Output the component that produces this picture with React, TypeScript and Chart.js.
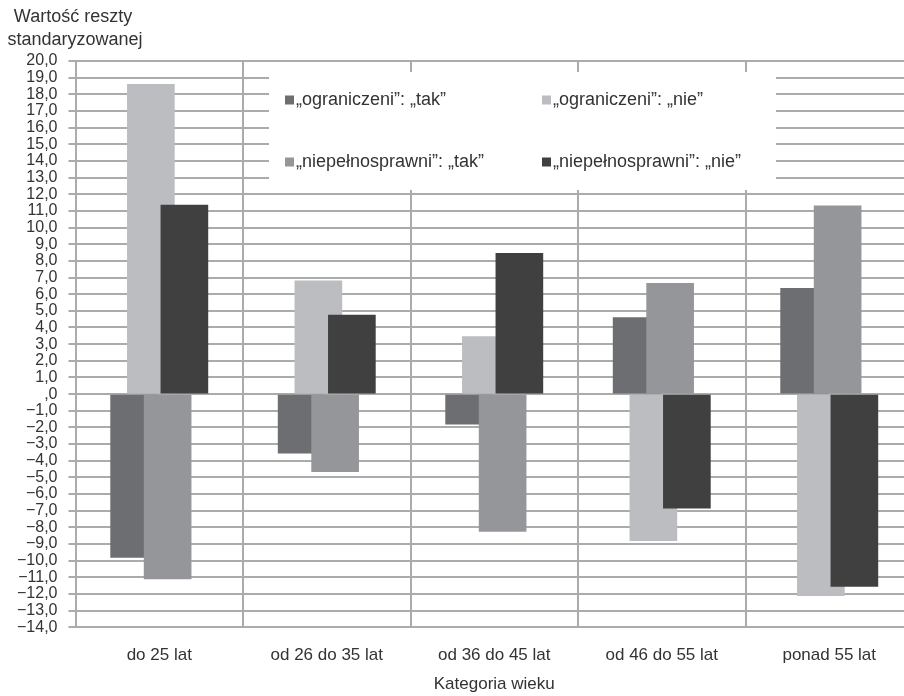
import { useEffect, useRef } from 'react';
import { Chart, registerables } from 'chart.js';

Chart.register(...registerables);

// Age groups on the horizontal axis
const categories = ['do 25 lat', 'od 26 do 35 lat', 'od 36 do 45 lat', 'od 46 do 55 lat', 'ponad 55 lat'];

// Series names (two binary variables, each split into "tak"/"nie")
const seriesNames = [
  '„ograniczeni”: „tak”',
  '„ograniczeni”: „nie”',
  '„niepełnosprawni”: „tak”',
  '„niepełnosprawni”: „nie”',
];

// Standardized residuals per age group
const ograniczeniTak = [-9.8, -3.55, -1.8, 4.6, 6.35];
const ograniczeniNie = [18.6, 6.8, 3.45, -8.8, -12.1];
const niepelnosprawniTak = [-11.1, -4.65, -8.25, 6.65, 11.3];
const niepelnosprawniNie = [11.35, 4.75, 8.45, -6.85, -11.55];

const seriesValues = [ograniczeniTak, ograniczeniNie, niepelnosprawniTak, niepelnosprawniNie];
const seriesColors = ['#6d6e71', '#bcbdc0', '#95969a', '#404040'];

// Value axis range
const yMin = -14;
const yMax = 20;
const yStep = 1;

const yTitleLines = ['Wartość reszty', 'standaryzowanej'];
const xTitle = 'Kategoria wieku';

// Bars in a group overlap: each is shifted by a tenth of the group width
const slotOffsets = [-0.15, -0.05, 0.05, 0.15];

const FONT = '"Liberation Sans", Arial, sans-serif';
const TEXT = '#333333';
const GRID = '#ababab';

const formatTick = (v: number) => {
  if (v === 0) return ',0';
  const s = Math.abs(v).toFixed(1).replace('.', ',');
  return v < 0 ? '\u2212' + s : s;
};

// Two-line horizontal title above the value axis
const yTitlePlugin = {
  id: 'yTitleTop',
  afterDraw(chart: Chart) {
    const ctx = chart.ctx;
    ctx.save();
    ctx.font = `18px ${FONT}`;
    ctx.fillStyle = TEXT;
    ctx.textAlign = 'center';
    ctx.textBaseline = 'alphabetic';
    ctx.fillText(yTitleLines[0], 73, 22);
    ctx.fillText(yTitleLines[1], 75, 45);
    ctx.restore();
  },
};

// Legend in a white box inside the plot, two columns by two rows
const innerLegendPlugin = {
  id: 'innerLegend',
  beforeDatasetsDraw(chart: Chart) {
    const ctx = chart.ctx;
    const box = { x: 269, y: 72, w: 507, h: 118 };
    ctx.save();
    ctx.fillStyle = '#ffffff';
    ctx.fillRect(box.x, box.y, box.w, box.h);
    ctx.font = `18px ${FONT}`;
    ctx.textBaseline = 'middle';
    ctx.textAlign = 'left';
    const cols = [285, 542];
    const rows = [100, 162];
    chart.data.datasets.forEach((ds: any, i: number) => {
      const cx = cols[i % 2];
      const cy = rows[Math.floor(i / 2)];
      ctx.fillStyle = ds.backgroundColor as string;
      ctx.fillRect(cx, cy - 4.5, 9, 9);
      ctx.fillStyle = TEXT;
      ctx.fillText(ds.label as string, cx + 11, cy);
    });
    ctx.restore();
  },
};

export default function App() {
  const canvasRef = useRef<HTMLCanvasElement | null>(null);

  useEffect(() => {
    document.body.style.margin = '0';
    document.body.style.overflow = 'hidden';
    const canvas = canvasRef.current;
    if (!canvas) return;

    const datasets = seriesValues.map((values, s) => ({
      label: seriesNames[s],
      data: values.map((y, i) => ({ x: i + slotOffsets[s], y })),
      backgroundColor: seriesColors[s],
      borderWidth: 0,
      xAxisID: 'xl',
      yAxisID: 'y',
      grouped: false,
      barThickness: 47,
      // later series are painted over earlier ones
      order: seriesValues.length - s,
    }));

    const chart = new Chart(canvas, {
      type: 'bar',
      data: { labels: categories, datasets },
      options: {
        animation: false,
        responsive: false,
        devicePixelRatio: 1,
        layout: { padding: { top: 61, right: 7, left: 0, bottom: 0 } },
        plugins: {
          legend: { display: false },
          tooltip: { enabled: false },
          title: { display: false },
        },
        scales: {
          x: {
            type: 'category',
            position: 'bottom',
            offset: true,
            grid: {
              display: true,
              offset: true,
              color: GRID,
              lineWidth: 2,
              drawTicks: false,
              tickLength: 0,
            },
            border: { display: true, color: GRID, width: 2 },
            ticks: {
              color: TEXT,
              font: { family: FONT, size: 17 },
              padding: 18,
              maxRotation: 0,
              autoSkip: false,
            },
            title: {
              display: true,
              text: xTitle,
              color: TEXT,
              font: { family: FONT, size: 17 },
              padding: { top: 0, bottom: 1 },
            },
            afterFit(scale: any) {
              scale.height = 68.7;
            },
          },
          xl: {
            type: 'linear',
            display: false,
            offset: false,
            grid: { offset: false },
            min: -0.5,
            max: categories.length - 0.5,
          },
          y: {
            type: 'linear',
            min: yMin,
            max: yMax,
            grid: {
              color: GRID,
              lineWidth: 2,
              drawTicks: true,
              tickLength: 7,
            },
            border: { display: true, color: GRID, width: 2 },
            ticks: {
              stepSize: yStep,
              autoSkip: false,
              color: TEXT,
              font: { family: FONT, size: 16 },
              padding: 11,
              callback: (v: any) => formatTick(Number(v)),
            },
            afterFit(scale: any) {
              scale.width = 75.5;
            },
          },
        },
      },
      plugins: [innerLegendPlugin, yTitlePlugin],
    });

    return () => chart.destroy();
  }, []);

  return (
    <div style={{ position: 'fixed', left: 0, top: 0, width: 920, height: 696, overflow: 'hidden', background: '#ffffff' }}>
      <canvas ref={canvasRef} width={920} height={696} style={{ display: 'block' }} />
    </div>
  );
}
